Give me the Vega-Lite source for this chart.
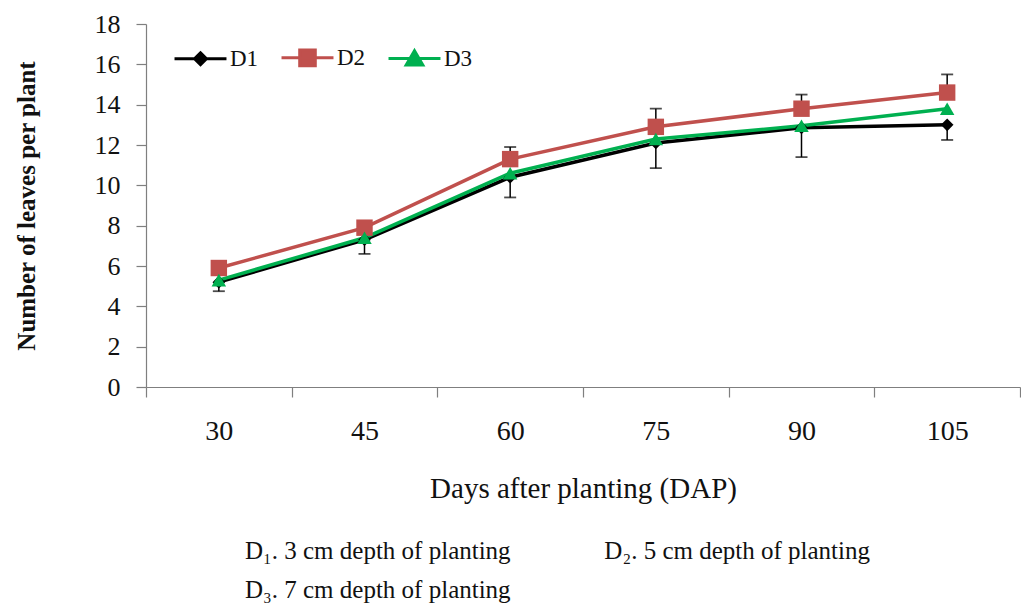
{
  "$schema": "https://vega.github.io/schema/vega-lite/v6.json",
  "description": "Number of leaves per plant over days after planting for three planting depths",
  "autosize": "none",
  "width": 874,
  "height": 363,
  "padding": {"left": 146, "top": 24, "right": 1, "bottom": 219},
  "background": "white",
  "config": {
    "font": "Liberation Serif",
    "view": {"stroke": null},
    "axis": {
      "labelFont": "Liberation Serif",
      "titleFont": "Liberation Serif",
      "labelColor": "#111",
      "titleColor": "#111",
      "domainColor": "#7f7f7f",
      "tickColor": "#7f7f7f",
      "domainWidth": 1.2,
      "tickWidth": 1.2,
      "grid": false
    }
  },
  "title": {
    "text": [
      "D₁. 3 cm depth of planting\u00a0\u00a0\u00a0\u00a0\u00a0\u00a0\u00a0\u00a0\u00a0\u00a0\u00a0\u00a0\u00a0\u00a0\u00a0D₂. 5 cm depth of planting",
      "D₃. 7 cm depth of planting"
    ],
    "orient": "bottom",
    "anchor": "start",
    "frame": "group",
    "dx": 99,
    "offset": 36,
    "font": "Liberation Serif",
    "fontSize": 25,
    "fontWeight": "normal",
    "lineHeight": 39,
    "color": "#111"
  },
  "data": {
    "values": [
      {"series": "D1", "dap": "30", "mean": 5.2, "lo": 4.75, "hi": null},
      {"series": "D1", "dap": "45", "mean": 7.3, "lo": 6.6, "hi": null},
      {"series": "D1", "dap": "60", "mean": 10.4, "lo": 9.4, "hi": null},
      {"series": "D1", "dap": "75", "mean": 12.1, "lo": 10.85, "hi": null},
      {"series": "D1", "dap": "90", "mean": 12.85, "lo": 11.4, "hi": null},
      {"series": "D1", "dap": "105", "mean": 13.0, "lo": 12.25, "hi": null},
      {"series": "D2", "dap": "30", "mean": 5.9, "lo": null, "hi": 6.2},
      {"series": "D2", "dap": "45", "mean": 7.9, "lo": null, "hi": 8.2},
      {"series": "D2", "dap": "60", "mean": 11.3, "lo": null, "hi": 11.9},
      {"series": "D2", "dap": "75", "mean": 12.9, "lo": null, "hi": 13.8},
      {"series": "D2", "dap": "90", "mean": 13.8, "lo": null, "hi": 14.5},
      {"series": "D2", "dap": "105", "mean": 14.6, "lo": null, "hi": 15.5},
      {"series": "D3", "dap": "30", "mean": 5.3, "lo": null, "hi": null},
      {"series": "D3", "dap": "45", "mean": 7.4, "lo": null, "hi": null},
      {"series": "D3", "dap": "60", "mean": 10.6, "lo": null, "hi": null},
      {"series": "D3", "dap": "75", "mean": 12.3, "lo": null, "hi": null},
      {"series": "D3", "dap": "90", "mean": 12.95, "lo": null, "hi": null},
      {"series": "D3", "dap": "105", "mean": 13.8, "lo": null, "hi": null}
    ]
  },
  "encoding": {
    "x": {
      "field": "dap",
      "type": "ordinal",
      "sort": ["30", "45", "60", "75", "90", "105"],
      "scale": {"type": "band", "paddingInner": 0, "paddingOuter": 0},
      "axis": {
        "title": "Days after planting (DAP)",
        "titleFontSize": 29,
        "titleFontWeight": "normal",
        "titlePadding": 29,
        "labelFontSize": 28,
        "labelAngle": 0,
        "labelPadding": 20,
        "tickSize": 10,
        "tickBand": "extent"
      }
    },
    "y": {
      "field": "mean",
      "type": "quantitative",
      "scale": {"domain": [0, 18], "nice": false},
      "axis": {
        "title": "Number of leaves per plant",
        "titleFontSize": 25,
        "titleFontWeight": "bold",
        "titlePadding": 55,
        "labelFontSize": 26,
        "labelPadding": 16,
        "tickSize": 10,
        "values": [0, 2, 4, 6, 8, 10, 12, 14, 16, 18]
      }
    },
    "color": {
      "field": "series",
      "type": "nominal",
      "scale": {"domain": ["D1", "D2", "D3"], "range": ["#000000", "#c0504d", "#00b050"]},
      "legend": {
        "orient": "none",
        "legendX": 27,
        "legendY": 6,
        "direction": "horizontal",
        "title": null,
        "padding": 0,
        "symbolSize": 2700,
        "symbolStrokeWidth": 3,
        "labelFont": "Liberation Serif",
        "labelFontSize": 23,
        "labelColor": "#111",
        "labelOffset": 2,
        "columnPadding": 16,
        "encode": {
          "symbols": {
            "update": {
              "shape": {"signal": "datum.value === 'D1' ? 'M-1,0H1M0,-0.23L0.23,0L0,0.23L-0.23,0Z' : datum.value === 'D2' ? 'M-1,0H1M-0.3,-0.3H0.3V0.3H-0.3Z' : 'M-1,0H1M0,-0.3L0.32,0.25H-0.32Z'"},
              "size": {"value": 2700},
              "fill": {"scale": "color", "field": "value"},
              "stroke": {"scale": "color", "field": "value"},
              "strokeWidth": {"value": 3},
              "opacity": {"value": 1}
            }
          }
        }
      }
    }
  },
  "layer": [
    {
      "mark": {"type": "rule", "color": "black", "strokeWidth": 1.5},
      "encoding": {"y2": {"field": "lo"}, "color": {"value": "black"}}
    },
    {
      "mark": {"type": "rule", "color": "black", "strokeWidth": 1.5},
      "encoding": {"y2": {"field": "hi"}, "color": {"value": "black"}}
    },
    {
      "mark": {"type": "tick", "color": "black", "size": 12, "thickness": 1.8, "orient": "horizontal"},
      "encoding": {"y": {"field": "lo", "type": "quantitative"}, "color": {"value": "black"}}
    },
    {
      "mark": {"type": "tick", "color": "black", "size": 12, "thickness": 1.8, "orient": "horizontal"},
      "encoding": {"y": {"field": "hi", "type": "quantitative"}, "color": {"value": "black"}}
    },
    {
      "mark": {"type": "line", "strokeWidth": 3.5}
    },
    {
      "transform": [{"filter": "datum.series === 'D1'"}],
      "mark": {"type": "point", "filled": true, "opacity": 1, "shape": "diamond", "size": 160}
    },
    {
      "transform": [{"filter": "datum.series === 'D2'"}],
      "mark": {"type": "point", "filled": true, "opacity": 1, "shape": "square", "size": 270}
    },
    {
      "transform": [{"filter": "datum.series === 'D3'"}],
      "mark": {"type": "point", "filled": true, "opacity": 1, "shape": "triangle-up", "size": 210}
    }
  ]
}
